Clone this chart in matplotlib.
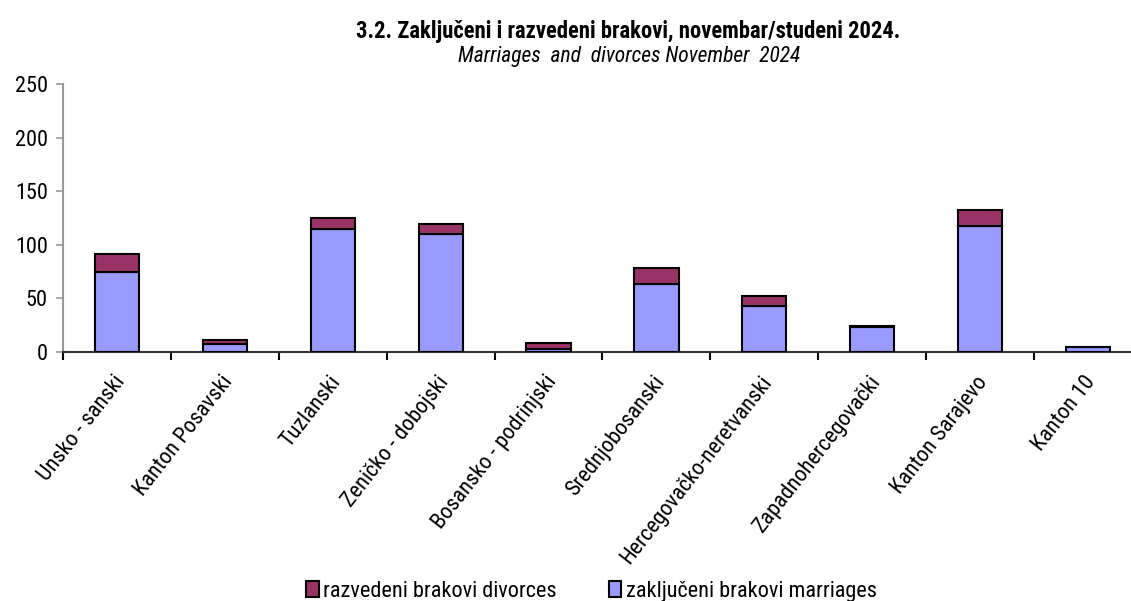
import matplotlib
matplotlib.use("Agg")
import matplotlib.pyplot as plt
import numpy as np

# podaci po kantonima
kantoni = ["Unsko - sanski", "Kanton Posavski", "Tuzlanski", "Zeničko - dobojski",
           "Bosansko - podrinjski", "Srednjobosanski", "Hercegovačko-neretvanski",
           "Zapadnohercegovački", "Kanton Sarajevo", "Kanton 10"]
zakljuceni = [74, 7, 115, 110, 2, 63, 43, 23, 117, 4]
razvedeni = [17, 4, 10, 9, 6, 15, 9, 1, 15, 0]

plt.rcParams['font.family'] = ['Roboto Condensed', 'Archivo Narrow', 'Liberation Sans', 'DejaVu Sans']

fig = plt.figure(figsize=(11.31, 6.01), dpi=100)
ax = fig.add_axes([0.0557, 0.415, 0.954, 0.445])

x = np.arange(len(kantoni))
b1 = ax.bar(x, zakljuceni, width=0.41, color='#9999FF', edgecolor='black', linewidth=1.5,
            label='zaključeni brakovi marriages', zorder=3)
b2 = ax.bar(x, razvedeni, bottom=zakljuceni, width=0.41, color='#993366', edgecolor='black',
            linewidth=1.5, label='razvedeni brakovi divorces', zorder=3)

ax.set_xlim(-0.5, len(kantoni) - 0.5)
ax.set_ylim(0, 250)
ax.set_yticks([0, 50, 100, 150, 200, 250])
ax.tick_params(axis='y', labelsize=16, length=5, width=1.2, color='#999999', pad=6)

ax.set_xticks(np.arange(len(kantoni) + 1) - 0.5)
ax.set_xticklabels([])
ax.tick_params(axis='x', length=6, width=1.5, color='black', direction='out')
for i, k in enumerate(kantoni):
    ax.text(i - 0.04, -19, k, rotation=52, ha='right', va='top', rotation_mode='anchor',
            fontsize=16, transform=ax.transData)

for s in ['top', 'right']:
    ax.spines[s].set_visible(False)
ax.spines['left'].set_color('#999999')
ax.spines['left'].set_linewidth(1.5)
ax.spines['bottom'].set_color('#333333')
ax.spines['bottom'].set_linewidth(1.5)

fig.text(0.555, 0.948, "3.2. Zaključeni i razvedeni brakovi, novembar/studeni 2024.",
         ha='center', va='center', fontsize=16.3, fontweight='bold')
fig.text(0.556, 0.906, "Marriages  and  divorces November  2024",
         ha='center', va='center', fontsize=15.5, style='italic')

fig.legend(handles=[b2, b1], loc='center', bbox_to_anchor=(0.523, 0.016), ncol=2,
           frameon=False, fontsize=16, handlelength=0.55, handleheight=0.7,
           handletextpad=0.2, columnspacing=2.35, borderaxespad=0)

fig.savefig("out.png", dpi=100)
